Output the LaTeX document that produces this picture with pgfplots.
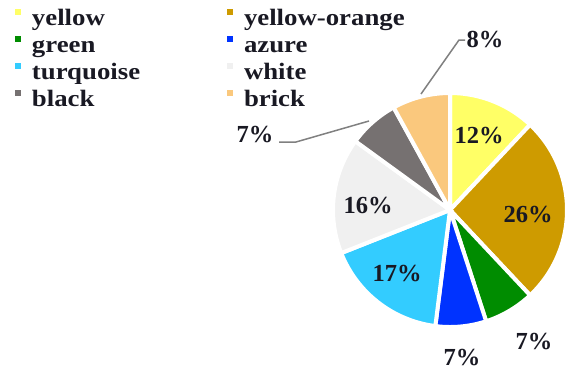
\documentclass[border=0pt]{standalone}
\usepackage{pgfplots}
\pgfplotsset{compat=1.18}
\usepackage{fontspec}
\setmainfont{Liberation Serif}
\newfontfamily\lgfont{Liberation Serif}[FakeStretch=1.14]
\definecolor{cYel}{RGB}{255,255,102}
\definecolor{cYO}{RGB}{206,155,0}
\definecolor{cGreen}{RGB}{0,140,0}
\definecolor{cAzure}{RGB}{0,51,255}
\definecolor{cTurq}{RGB}{51,204,255}
\definecolor{cWhite}{RGB}{240,240,240}
\definecolor{cBlack}{RGB}{118,113,113}
\definecolor{cBrick}{RGB}{250,200,125}
\definecolor{txt}{RGB}{25,25,35}
\definecolor{lead}{RGB}{128,128,128}
% shares in percent: yellow 12, yellow-orange 26, green 7, azure 7,
% turquoise 17, white 16, black 7, brick 8 (clockwise from 12 o'clock)
\begin{document}
\begin{tikzpicture}
\begin{axis}[
  width=567pt, height=370pt, scale only axis,
  xmin=0, xmax=567, ymin=0, ymax=370, y dir=reverse,
  hide axis, clip=false,
  legend columns=2,
  legend cell align=left,
  legend image code/.code={\fill[#1,draw=none] (0pt,5.5pt) rectangle (6pt,11.5pt);},
  legend style={draw=none, fill=none, inner sep=0pt, outer sep=0pt,
    at={(axis cs:15,7)}, anchor=north west,
    font=\lgfont\bfseries\fontsize{23.5}{26}\selectfont, text=txt,
    column sep=0pt, row sep=0pt,
    nodes={inner sep=1pt, text height=17pt, text depth=8pt, text width=194pt},
    /tikz/every odd column/.append style={column sep=10pt}},
  every axis plot/.append style={draw=white, line width=4pt, samples=40, variable=\t},
]
% yellow 12%
\addplot[fill=cYel, domain=46.8:90] ({450+117*cos(t)},{210-117*sin(t)}) -- (axis cs:450,210) -- cycle;
\addlegendentry{yellow}
% yellow-orange 26%
\addplot[fill=cYO, domain=-46.8:46.8] ({450+117*cos(t)},{210-117*sin(t)}) -- (axis cs:450,210) -- cycle;
\addlegendentry{yellow-orange}
% green 7%
\addplot[fill=cGreen, domain=-72:-46.8] ({450+117*cos(t)},{210-117*sin(t)}) -- (axis cs:450,210) -- cycle;
\addlegendentry{green}
% azure 7%
\addplot[fill=cAzure, domain=-97.2:-72] ({450+117*cos(t)},{210-117*sin(t)}) -- (axis cs:450,210) -- cycle;
\addlegendentry{azure}
% turquoise 17%
\addplot[fill=cTurq, domain=-158.4:-97.2] ({450+117*cos(t)},{210-117*sin(t)}) -- (axis cs:450,210) -- cycle;
\addlegendentry{turquoise}
% white 16%
\addplot[fill=cWhite, domain=-216:-158.4] ({450+117*cos(t)},{210-117*sin(t)}) -- (axis cs:450,210) -- cycle;
\addlegendentry{white}
% black 7%
\addplot[fill=cBlack, domain=-241.2:-216] ({450+117*cos(t)},{210-117*sin(t)}) -- (axis cs:450,210) -- cycle;
\addlegendentry{black}
% brick 8%
\addplot[fill=cBrick, domain=-270:-241.2] ({450+117*cos(t)},{210-117*sin(t)}) -- (axis cs:450,210) -- cycle;
\addlegendentry{brick}
% leader lines
\draw[lead, line width=1.5pt] (axis cs:279,142) -- (axis cs:296,142) -- (axis cs:369,121);
\draw[lead, line width=1.5pt] (axis cs:465,40) -- (axis cs:459,40) -- (axis cs:421,94);
% labels
\begin{scope}[every node/.style={font=\bfseries\fontsize{24.5}{26}\selectfont, text=txt, inner sep=0pt}]
\node at (axis cs:479,136) {12\%};
\node at (axis cs:528,215) {26\%};
\node at (axis cs:534,342) {7\%};
\node at (axis cs:462,358) {7\%};
\node at (axis cs:397,274) {17\%};
\node at (axis cs:368,206) {16\%};
\node at (axis cs:255,135) {7\%};
\node at (axis cs:485,40) {8\%};
\end{scope}
\end{axis}
\pgfresetboundingbox
\path (0,0) rectangle (567pt,370pt);
\end{tikzpicture}
\end{document}
